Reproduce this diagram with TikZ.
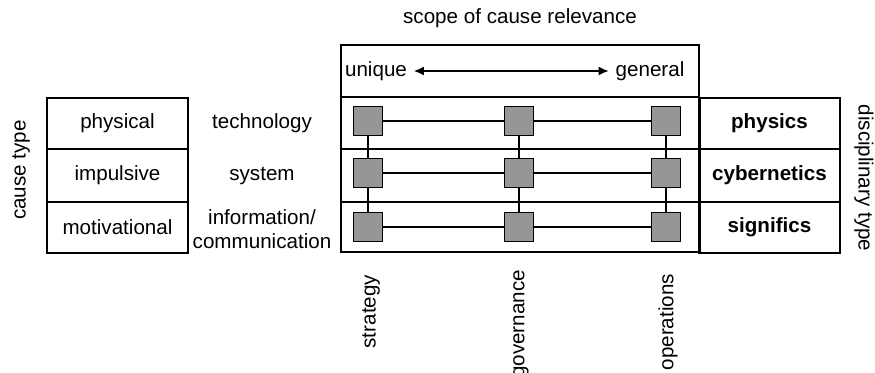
\documentclass[tikz,border=0pt]{standalone}
\usepackage{fontspec}
\setmainfont{Liberation Sans}
\usetikzlibrary{arrows.meta}
\definecolor{sqgray}{RGB}{150,150,150}
\begin{document}
\begin{tikzpicture}[x=0.5pt,y=-0.5pt,font=\fontsize{10.3}{11.8}\selectfont,
    sq/.style={draw,fill=sqgray,line width=0.7pt,minimum size=14.5pt,inner sep=0pt},
    boxline/.style={line width=0.6pt},
    sepline/.style={line width=1.2pt},
    link/.style={line width=0.6pt},
    boldlbl/.style={font=\fontsize{10.3}{11.8}\selectfont\bfseries}]
    \useasboundingbox (0,0) rectangle (875,373);
    % left boxes
    \draw[boxline] (47,98) rectangle (188,253);
    \draw[sepline] (47,149) -- (188,149);
    \draw[sepline] (47,202) -- (188,202);
    \node (phys) at (117.5,123.5) {physical};
    \node (imp) at (117.5,175.5) {impulsive};
    \node (mot) at (117.5,227.5) {motivational};
    \node[rotate=90] (cause) at (21,170) {cause type};
    % middle labels
    \node (tech) at (262,123.5) {technology};
    \node (sys) at (262,175.5) {system};
    \node[align=center] (info) at (262,229) {information/\\communication};
    % top box
    \node (title) at (520,18) {scope of cause relevance};
    \draw[boxline] (341,45) rectangle (699,97);
    \node (uniq) at (376,71) {unique};
    \node (gen) at (650,71) {general};
    \draw[link,{Latex[length=5pt,width=4.5pt]}-{Latex[length=5pt,width=4.5pt]}] (uniq) -- (gen);
    % matrix
    \draw[boxline] (341,97) rectangle (699,252);
    \draw[sepline] (341,97) -- (699,97);
    \draw[sepline] (341,149) -- (699,149);
    \draw[sepline] (341,202) -- (699,202);
    \foreach \r/\y in {1/121,2/173,3/227}
      \foreach \c/\x in {1/368,2/519,3/666}
        \node[sq] (s\r\c) at (\x,\y) {};
    \foreach \r in {1,2,3} {
      \draw[link] (s\r1) -- (s\r2);
      \draw[link] (s\r2) -- (s\r3);
    }
    \foreach \c in {1,2,3} {
      \draw[link] (s1\c) -- (s2\c);
      \draw[link] (s2\c) -- (s3\c);
    }
    % right boxes
    \draw[boxline] (699,98) rectangle (840,253);
    \draw[sepline] (700,97) -- (700,253);
    \draw[sepline] (699,149) -- (840,149);
    \draw[sepline] (699,202) -- (840,202);
    \node[boldlbl] (physics) at (769.5,123.5) {physics};
    \node[boldlbl] (cyb) at (769.5,175.5) {cybernetics};
    \node[boldlbl] (sig) at (769.5,227.5) {significs};
    \node[rotate=-90] (disc) at (864,178) {disciplinary type};
    % bottom labels
    \node[rotate=90,anchor=east] (strat) at (371,268) {strategy};
    \node[rotate=90,anchor=east] (gov) at (521,263) {governance};
    \node[rotate=90,anchor=east] (ops) at (668,267) {operations};
\end{tikzpicture}
\end{document}
